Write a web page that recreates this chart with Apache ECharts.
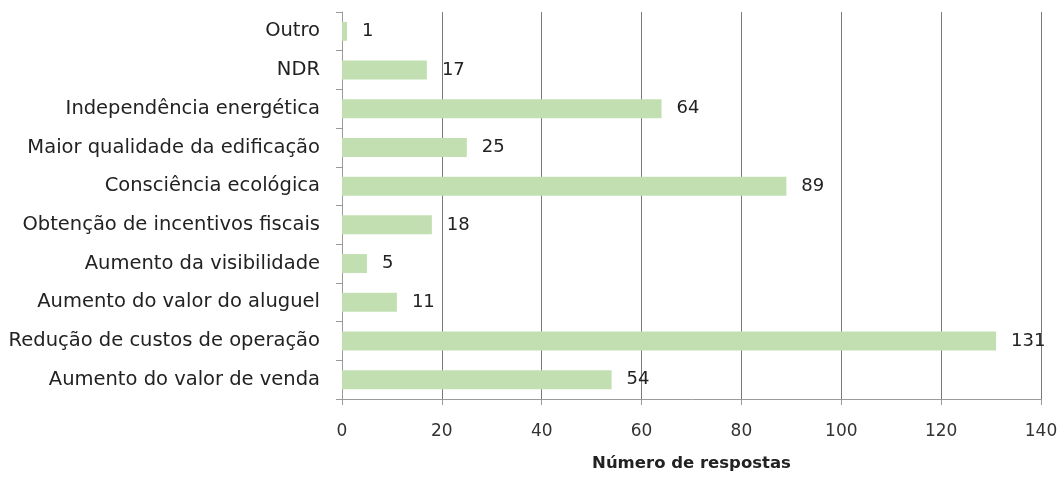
<!DOCTYPE html>
<html>
<head>
<meta charset="utf-8">
<script src="https://cdn.jsdelivr.net/npm/echarts@6/dist/echarts.min.js"></script>
<style>
  html, body { margin: 0; padding: 0; background: #ffffff; overflow: hidden; }
  #chart { width: 1064px; height: 477px; }
</style>
</head>
<body>
<div id="chart"></div>
<script>
// Motivos, listed from bottom to top of the chart
const categories = [
  'Aumento do valor de venda',
  'Redução de custos de operação',
  'Aumento do valor do aluguel',
  'Aumento da visibilidade',
  'Obtenção de incentivos fiscais',
  'Consciência ecológica',
  'Maior qualidade da edificação',
  'Independência energética',
  'NDR',
  'Outro'
];
const respostas = [54, 131, 11, 5, 18, 89, 25, 64, 17, 1];
const xTicks = [0, 20, 40, 60, 80, 100, 120, 140];
const axisTitle = 'Número de respostas';

const font = '"DejaVu Sans", "Open Sans", sans-serif';
const chart = echarts.init(document.getElementById('chart'));
chart.setOption({
  backgroundColor: '#ffffff',
  animation: false,
  grid: { left: 342, right: 23, top: 12, bottom: 76, containLabel: false },
  xAxis: {
    type: 'value',
    min: xTicks[0],
    max: xTicks[xTicks.length - 1],
    interval: xTicks[1] - xTicks[0],
    name: axisTitle,
    nameLocation: 'middle',
    nameGap: 56,
    nameTextStyle: { fontFamily: font, fontSize: 16.5, fontWeight: 'bold', color: '#222' },
    axisLine: { show: true, lineStyle: { color: '#9a9a9a', width: 1 } },
    axisTick: { show: true, length: 6, lineStyle: { color: '#9a9a9a' } },
    axisLabel: { fontFamily: font, fontSize: 17, color: '#333', margin: 24 },
    splitLine: { show: true, lineStyle: { color: '#7a7a7a', width: 1 } }
  },
  yAxis: {
    type: 'category',
    data: categories,
    axisLine: { show: true, lineStyle: { color: '#9a9a9a', width: 1 } },
    axisTick: { show: true, length: 6, lineStyle: { color: '#9a9a9a' } },
    axisLabel: { fontFamily: font, fontSize: 19.5, color: '#222', margin: 22 }
  },
  series: [{
    type: 'bar',
    data: respostas,
    barCategoryGap: '51%',
    itemStyle: { color: '#c2dfb2' },
    label: {
      show: true,
      position: 'right',
      distance: 15,
      fontFamily: font,
      fontSize: 18,
      color: '#222'
    }
  }]
});
</script>
</body>
</html>
